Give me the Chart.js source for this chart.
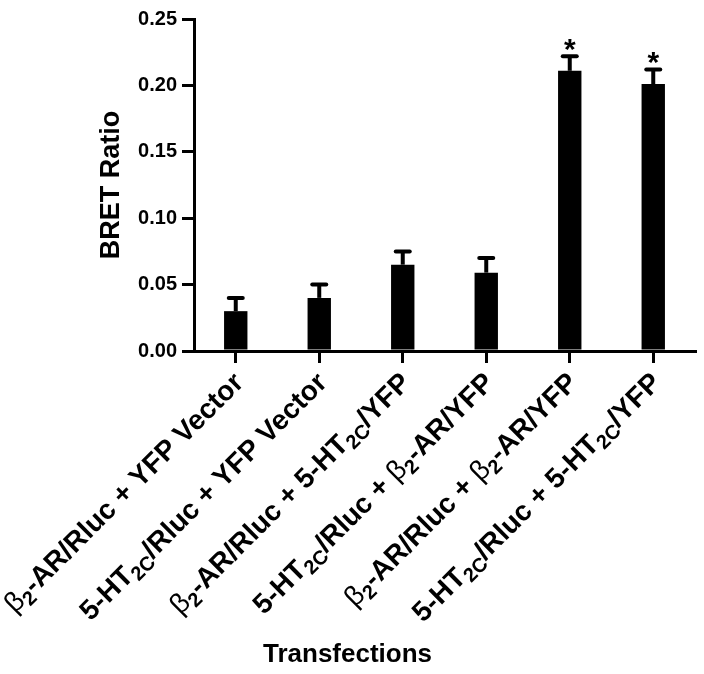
<!DOCTYPE html>
<html>
<head>
<meta charset="utf-8">
<script src="https://cdn.jsdelivr.net/npm/chart.js@4.4.0/dist/chart.umd.min.js"></script>
<style>
  html, body { margin: 0; padding: 0; background: #fff; }
  #wrap { width: 704px; height: 674px; }
</style>
</head>
<body>
<div id="wrap"><canvas id="c" width="704" height="674"></canvas></div>
<script>
// ---- data ----
const categories = [
  "β{2}-AR/Rluc + YFP Vector",
  "5-HT{2C}/Rluc + YFP Vector",
  "β{2}-AR/Rluc + 5-HT{2C}/YFP",
  "5-HT{2C}/Rluc + β{2}-AR/YFP",
  "β{2}-AR/Rluc + β{2}-AR/YFP",
  "5-HT{2C}/Rluc + 5-HT{2C}/YFP"
];
const bretRatio = [0.030, 0.040, 0.065, 0.059, 0.211, 0.201];
const bretError = [0.010, 0.010, 0.010, 0.011, 0.011, 0.011];
const significance = ["", "", "", "", "*", "*"];
const yTickValues = [0.00, 0.05, 0.10, 0.15, 0.20, 0.25];
const yTickLabels = ["0.00", "0.05", "0.10", "0.15", "0.20", "0.25"];
const yTitle = "BRET Ratio";
const xTitle = "Transfections";

const FAMILY = "'Liberation Sans', Arial, Helvetica, sans-serif";

function parseLabel(s) {
  const segs = [];
  const re = /\{([^}]*)\}/g;
  let last = 0, m;
  const pushText = (t) => {
    let buf = "";
    for (const ch of t) {
      if (ch === "β") {
        if (buf) { segs.push({ t: buf, k: "n" }); buf = ""; }
        segs.push({ t: ch, k: "g" });
      } else buf += ch;
    }
    if (buf) segs.push({ t: buf, k: "n" });
  };
  while ((m = re.exec(s)) !== null) {
    pushText(s.slice(last, m.index));
    segs.push({ t: m[1], k: "s" });
    last = re.lastIndex;
  }
  pushText(s.slice(last));
  return segs;
}

const overlay = {
  id: "overlay",
  afterDatasetsDraw(chart) {
    const ctx = chart.ctx;
    const xs = chart.scales.x, ys = chart.scales.y;
    ctx.save();
    ctx.strokeStyle = "#000";
    ctx.lineWidth = 4;
    bretRatio.forEach((v, i) => {
      const x = xs.getPixelForValue(i);
      const y0 = ys.getPixelForValue(v);
      const y1 = ys.getPixelForValue(v + bretError[i]);
      ctx.lineCap = "butt";
      ctx.beginPath(); ctx.moveTo(x, y0); ctx.lineTo(x, y1); ctx.stroke();
      ctx.lineCap = "round";
      ctx.beginPath(); ctx.moveTo(x - 7, y1); ctx.lineTo(x + 7, y1); ctx.stroke();
      if (significance[i]) {
        ctx.font = "bold 30px " + FAMILY;
        ctx.fillStyle = "#000";
        ctx.textAlign = "center";
        ctx.textBaseline = "alphabetic";
        const mt = ctx.measureText(significance[i]);
        const a = mt.actualBoundingBoxAscent, d = mt.actualBoundingBoxDescent;
        const cy = y1 - 2 - 9;
        ctx.fillText(significance[i], x, cy + (a - d) / 2);
      }
    });
    ctx.restore();
  },
  afterDraw(chart) {
    const ctx = chart.ctx;
    const xs = chart.scales.x;
    const F = 28;
    ctx.save();
    ctx.fillStyle = "#000";
    categories.forEach((lab, i) => {
      const segs = parseLabel(lab);
      const fontOf = (k) => k === "s" ? "bold " + Math.round(F * 0.72) + "px " + FAMILY
                         : k === "g" ? "normal " + F + "px " + FAMILY
                         : "bold " + F + "px " + FAMILY;
      let total = 0;
      segs.forEach(sg => { ctx.font = fontOf(sg.k); sg.w = ctx.measureText(sg.t).width; total += sg.w; });
      const px = xs.getPixelForTick(i) + 2;
      const py = xs.top + 12 + 14;
      ctx.save();
      ctx.translate(px, py);
      ctx.rotate(-Math.PI / 4);
      ctx.textAlign = "left";
      ctx.textBaseline = "alphabetic";
      let cx = -total;
      const base = F * 0.36;
      segs.forEach(sg => {
        ctx.font = fontOf(sg.k);
        ctx.fillText(sg.t, cx, sg.k === "s" ? base + F * 0.2 : base);
        cx += sg.w;
      });
      ctx.restore();
    });
    ctx.restore();
  }
};

new Chart(document.getElementById("c"), {
  type: "bar",
  data: {
    labels: categories,
    datasets: [{
      data: bretRatio,
      backgroundColor: "#000",
      borderWidth: 0,
      barPercentage: 0.28,
      categoryPercentage: 1.0
    }]
  },
  options: {
    responsive: false,
    animation: false,
    layout: { padding: { left: 0, right: 9, top: 19, bottom: 0 } },
    plugins: {
      legend: { display: false },
      tooltip: { enabled: false },
      title: {
        display: true,
        text: xTitle,
        position: "bottom",
        color: "#000",
        font: { family: FAMILY, size: 26, weight: "bold" },
        padding: { top: 0, bottom: 4 }
      }
    },
    scales: {
      x: {
        offset: true,
        grid: { display: true, offset: false, drawOnChartArea: false, drawTicks: true,
                tickLength: 12, lineWidth: 3, color: "#000" },
        border: { display: true, color: "#000", width: 3 },
        ticks: { display: false },
        afterFit(s) { s.height = 674 - 351 - 35.2; }
      },
      y: {
        min: 0, max: 0.25,
        afterBuildTicks(s) { s.ticks = yTickValues.map(v => ({ value: v })); },
        grid: { display: true, drawOnChartArea: false, drawTicks: true,
                tickLength: 12, lineWidth: 3, color: "#000" },
        border: { display: true, color: "#000", width: 3 },
        ticks: {
          color: "#000",
          padding: 5,
          font: { family: FAMILY, size: 20, weight: "bold" },
          callback(v, i) { return yTickLabels[i]; }
        },
        title: {
          display: true,
          text: yTitle,
          color: "#000",
          font: { family: FAMILY, size: 27, weight: "bold" },
          padding: { top: 95, bottom: 0 }
        },
        afterFit(s) { s.width = 194; }
      }
    }
  },
  plugins: [overlay]
});
</script>
</body>
</html>
